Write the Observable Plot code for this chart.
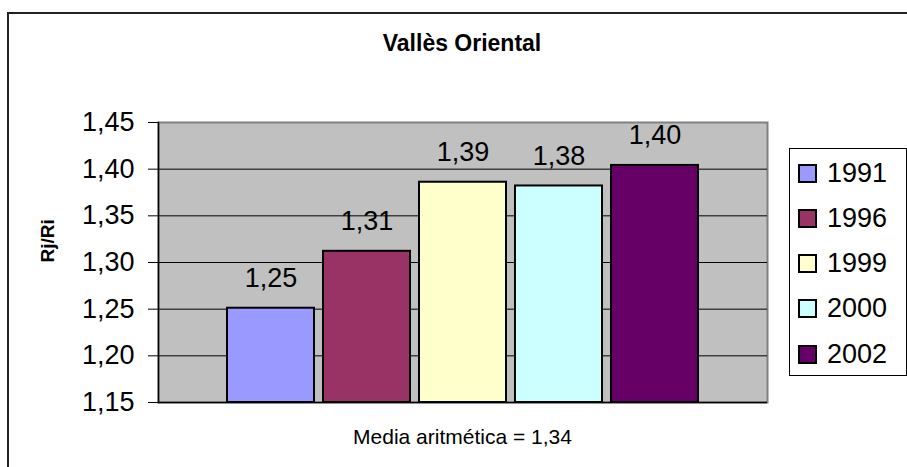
<!DOCTYPE html>
<html>
<head>
<meta charset="utf-8">
<script src="https://cdn.jsdelivr.net/npm/d3@7"></script>
<script src="https://cdn.jsdelivr.net/npm/@observablehq/plot@0.6"></script>
<style>
  html, body { margin: 0; padding: 0; background: #fff; overflow: hidden; }
  #wrap { position: relative; width: 907px; height: 467px; overflow: hidden; font-family: "Liberation Sans", Arial, sans-serif; color: #000; }
  #border { position: absolute; left: 7px; top: 12px; width: 1000px; height: 600px; border: 2px solid #222; box-sizing: border-box; }
  #chart { position: absolute; left: 0; top: 0; }
  #title { position: absolute; left: 0; width: 924px; top: 30px; text-align: center; font-weight: bold; font-size: 23px; }
  #caption { position: absolute; left: 158px; width: 609px; top: 425px; text-align: center; font-size: 21px; }
  #legend { position: absolute; left: 789px; top: 148px; width: 118px; height: 228px; border: 1px solid #000; box-sizing: border-box; background: #fff; }
  .item { position: absolute; left: 8px; height: 30px; display: flex; align-items: center; font-size: 27px; }
  .sw { width: 19px; height: 19px; border: 2px solid #000; box-sizing: border-box; margin-right: 10px; }
</style>
</head>
<body>
<div id="wrap">
  <div id="border"></div>
  <div id="chart"></div>
  <div id="title"></div>
  <div id="caption"></div>
  <div id="legend"></div>
</div>
<script>
// ---- data ----
const title = "Vallès Oriental";
const yLabel = "Rj/Ri";
const caption = "Media aritmética = 1,34";
const years = ["1991", "1996", "1999", "2000", "2002"];
const values = [1.251, 1.312, 1.386, 1.382, 1.404];
const valueLabels = ["1,25", "1,31", "1,39", "1,38", "1,40"];
const colors = ["#9999FF", "#993366", "#FFFFCC", "#CCFFFF", "#660066"];
const yTicks = [1.15, 1.20, 1.25, 1.30, 1.35, 1.40, 1.45];
const yTickLabels = ["1,15", "1,20", "1,25", "1,30", "1,35", "1,40", "1,45"];

const data = years.map((y, i) => ({year: y, value: values[i], label: valueLabels[i]}));
const tickMap = new Map(yTicks.map((t, i) => [t.toFixed(2), yTickLabels[i]]));

const chart = Plot.plot({
  width: 907,
  height: 467,
  marginLeft: 158,
  marginRight: 140,
  marginTop: 122,
  marginBottom: 65,
  style: {fontFamily: "'Liberation Sans', Arial, sans-serif", background: "transparent", color: "#000", overflow: "visible"},
  x: {domain: years, paddingInner: 0.09, paddingOuter: 0.69, axis: null},
  y: {domain: [1.15, 1.45], axis: null},
  color: {domain: years, range: colors},
  marks: [
    Plot.frame({fill: "#C0C0C0", stroke: "#808080", strokeWidth: 2}),
    Plot.ruleY(yTicks.slice(1, -1), {stroke: "#000", strokeWidth: 1}),
    Plot.barY(data, {x: "year", y1: 1.15, y2: "value", fill: "year", stroke: "#000", strokeWidth: 2}),
    Plot.frame({anchor: "left", stroke: "#000", strokeWidth: 1.5}),
    Plot.ruleY([1.15], {stroke: "#000", strokeWidth: 1.5}),
    Plot.axisY({ticks: yTicks, tickFormat: d => tickMap.get(d.toFixed(2)), tickSize: 10, tickPadding: 14, fontSize: 27, label: null, stroke: "#000"}),
    Plot.text(data, {x: "year", y: "value", text: "label", dy: -30, fontSize: 27, fill: "#000"}),
    Plot.text([yLabel], {frameAnchor: "left", dx: -111, rotate: -90, fontWeight: "bold", fontSize: 19, fill: "#000"})
  ]
});
document.getElementById("chart").appendChild(chart);

document.getElementById("title").textContent = title;
document.getElementById("caption").textContent = caption;

const legend = document.getElementById("legend");
years.forEach((y, i) => {
  const it = document.createElement("div");
  it.className = "item";
  it.style.top = (9 + i * 45.3) + "px";
  const sw = document.createElement("div");
  sw.className = "sw";
  sw.style.background = colors[i];
  const tx = document.createElement("span");
  tx.textContent = y;
  it.appendChild(sw);
  it.appendChild(tx);
  legend.appendChild(it);
});
</script>
</body>
</html>
